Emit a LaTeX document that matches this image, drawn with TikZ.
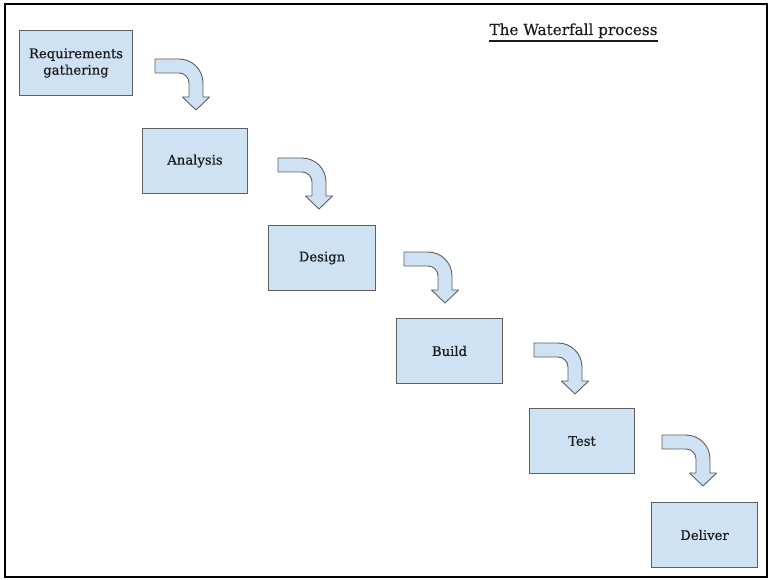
\documentclass[tikz,border=0pt]{standalone}
\usepackage{fontspec}
\setmainfont{DejaVu Serif}[FakeBold=0.45]
\usetikzlibrary{calc}
\definecolor{boxfill}{HTML}{CFE2F3}
\definecolor{boxline}{HTML}{5F5F5F}
\definecolor{inkc}{HTML}{1A1A1A}
\tikzset{
  stage/.style={draw=boxline, line width=1pt, fill=boxfill, inner sep=0pt,
    anchor=north west, text=inkc, font=\fontsize{13.2}{16.5}\selectfont, align=center},
  bent/.pic={
    \draw[draw=boxline, line width=0.9pt, fill=boxfill, line join=round]
      (0,0) -- (24,0) .. controls (37.25,0) and (48,10.75) .. (48,24)
      -- (48,38) -- (54.5,38) -- (41,51) -- (27.5,38) -- (34,38) -- (34,24)
      .. controls (34,18.5) and (29.5,14) .. (24,14) -- (0,14) -- cycle;
  }
}
\begin{document}
\begin{tikzpicture}[x=1pt, y=-1pt]
  \useasboundingbox[fill=white] (0,0) rectangle (770,580);
  % outer frame
  \draw[line width=2.5pt, black] (5,4) rectangle (767,577);
  % title with its underline
  \node[anchor=base, inner sep=0pt, text=inkc, font=\fontsize{15.2}{18}\selectfont] (title) at (573.5,35)
    {The Waterfall process};
  \draw[inkc, line width=1.3pt] ($(title.base west)+(0,6)$) -- ($(title.base east)+(0,6)$);
  % stages
  \node[stage, minimum width=113pt, minimum height=65pt] (req) at (19,30) {Requirements\\gathering};
  \node[stage, minimum width=105pt, minimum height=65pt] (ana) at (142,128) {Analysis};
  \node[stage, minimum width=107pt, minimum height=65pt] (des) at (268,225) {Design};
  \node[stage, minimum width=106pt, minimum height=65pt] (bui) at (396,318) {Build};
  \node[stage, minimum width=105pt, minimum height=65pt] (tes) at (529,408) {Test};
  \node[stage, minimum width=106pt, minimum height=65pt] (del) at (651,502) {Deliver};
  % bent arrows between stages
  \pic at ($(req.north east)+(22,29)$) {bent};
  \pic at ($(ana.north east)+(30,30)$) {bent};
  \pic at ($(des.north east)+(28,27)$) {bent};
  \pic at ($(bui.north east)+(31,25)$) {bent};
  \pic at ($(tes.north east)+(27,27)$) {bent};
\end{tikzpicture}
\end{document}
